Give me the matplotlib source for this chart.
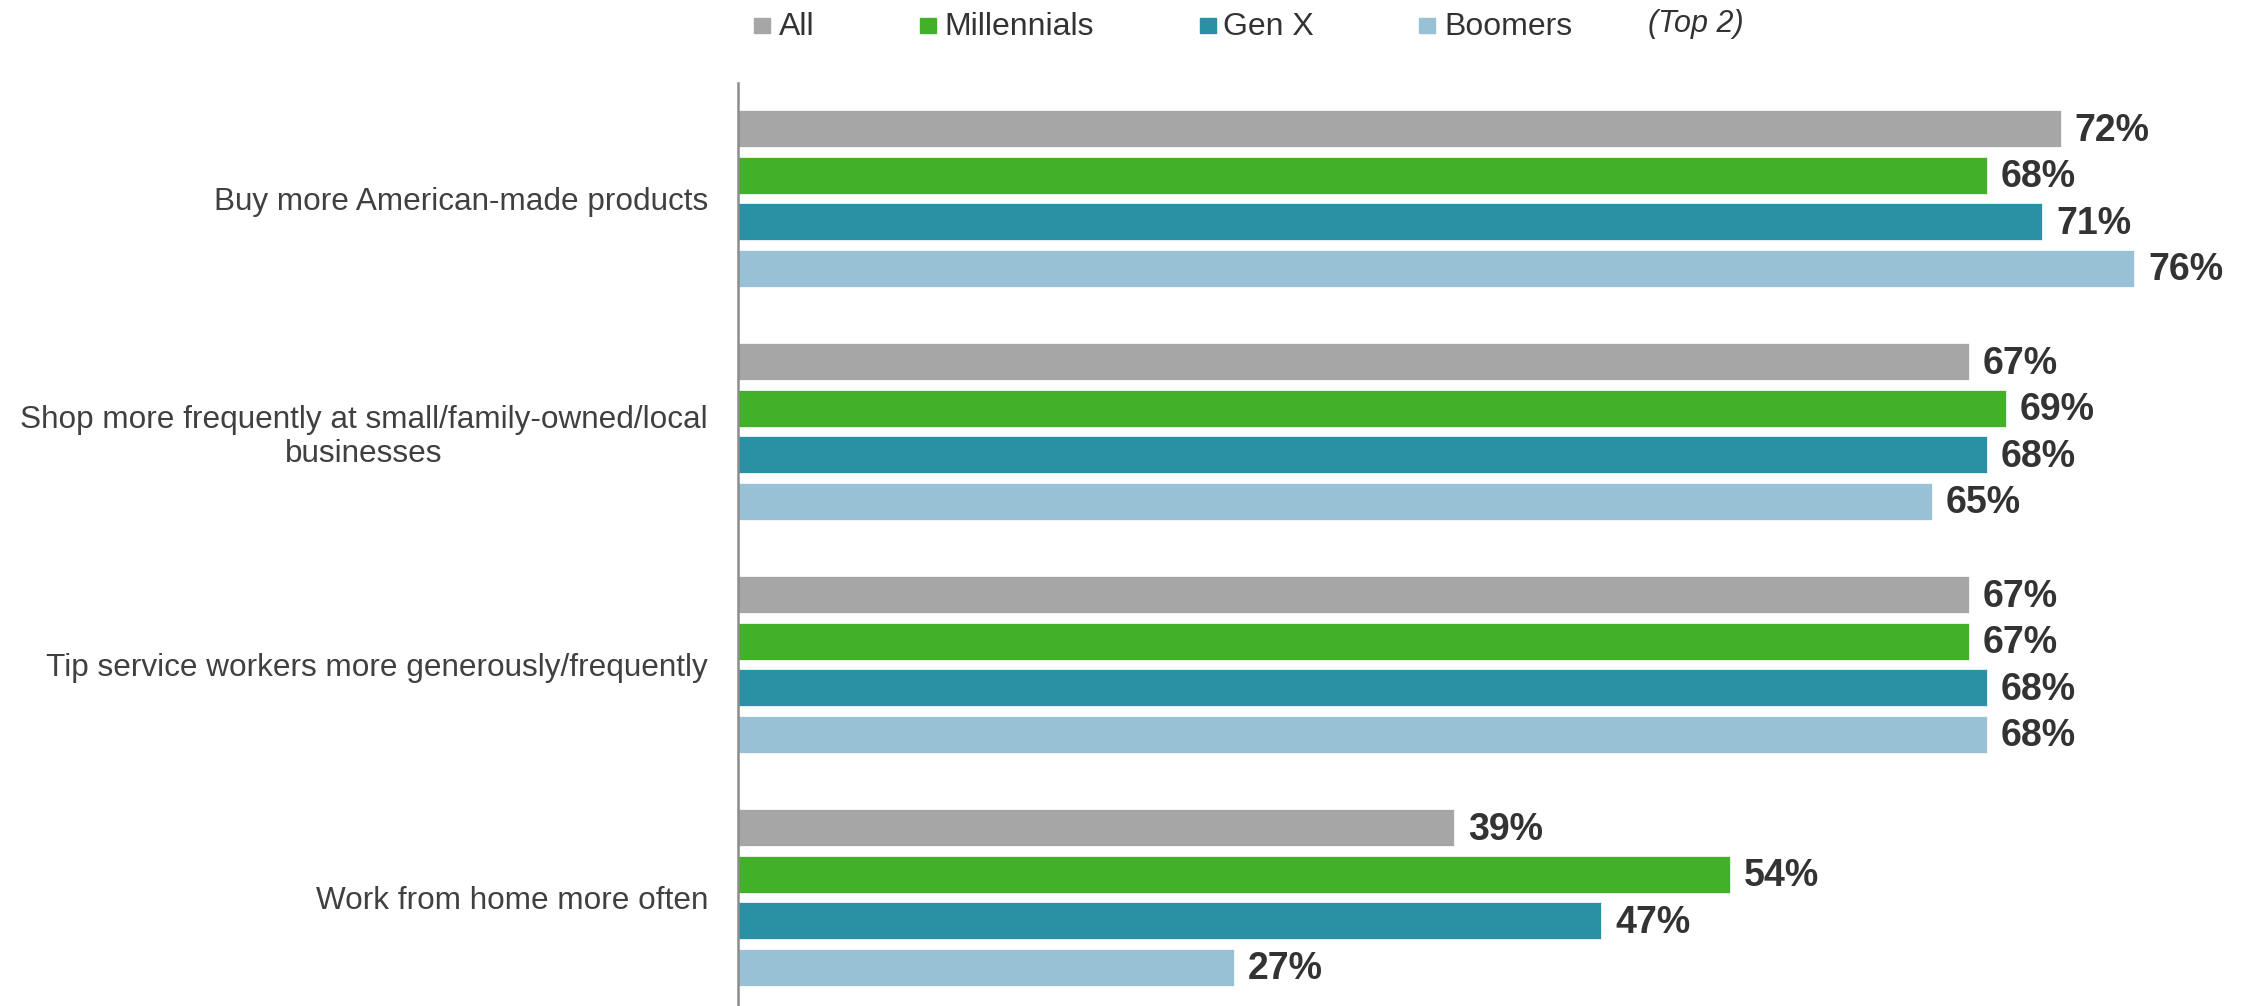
import numpy as np
import matplotlib
matplotlib.use("Agg")
import matplotlib.pyplot as plt
from matplotlib.patches import Rectangle

plt.rcParams['font.family'] = ['Liberation Sans', 'DejaVu Sans']

# data
categories = [
    'Buy more American-made products',
    'Shop more frequently at small/family-owned/local\nbusinesses',
    'Tip service workers more generously/frequently',
    'Work from home more often',
]
series_names = ['All', 'Millennials', 'Gen X', 'Boomers']
all_vals = [72, 67, 67, 39]
millennials = [68, 69, 67, 54]
gen_x = [71, 68, 68, 47]
boomers = [76, 65, 68, 27]
colors = ['#a6a6a6', '#43b02a', '#2a90a4', '#98c1d5']

W, H = 2257, 1006
fig = plt.figure(figsize=(W / 100, H / 100), dpi=100)
ax = fig.add_axes([738 / W, 0, 1496 / W, 923 / H])

groups = np.arange(len(categories))
step = 46.5 / 233
bar_h = 37 / 233
series = [all_vals, millennials, gen_x, boomers]

for k, (vals, col) in enumerate(zip(series, colors)):
    y = groups + (k - 1.5) * step
    ax.barh(y, vals, height=bar_h, color=col, edgecolor='white', linewidth=0.5)
    for yy, v in zip(y, vals):
        ax.text(v + 0.75, yy + 0.008, f'{v}%', va='center', ha='left',
                fontsize=27, fontweight='bold', color='#333333')

ax.set_xlim(0, 1496 / 18.37)
ax.set_ylim(3.466, -0.496)
ax.set_yticks(groups)
ax.set_yticklabels(categories, fontsize=22.7, color='#404040',
                   ha='right', multialignment='center', linespacing=1.18)
ax.tick_params(axis='y', length=0, pad=21.6)
ax.set_xticks([])
for s in ['top', 'right', 'bottom']:
    ax.spines[s].set_visible(False)
ax.spines['left'].set_color('#8c8c8c')
ax.spines['left'].set_linewidth(1.8)

# legend across the top
sq_x = [754, 920, 1200, 1419]
txt_x = [779, 944, 1223, 1444]
leg_y = 27
for name, col, sx, tx in zip(series_names, colors, sq_x, txt_x):
    fig.add_artist(Rectangle((sx / W, 1 - (leg_y + 6) / H), 16 / W, 15 / H,
                             transform=fig.transFigure, color=col))
    fig.text(tx / W, 1 - leg_y / H, name, fontsize=23, color='#333333',
             ha='left', va='center')
fig.text(1648 / W, 1 - (leg_y - 3) / H, '(Top 2)', fontsize=22, style='italic',
         color='#333333', ha='left', va='center')

fig.savefig('out.png', dpi=100)
